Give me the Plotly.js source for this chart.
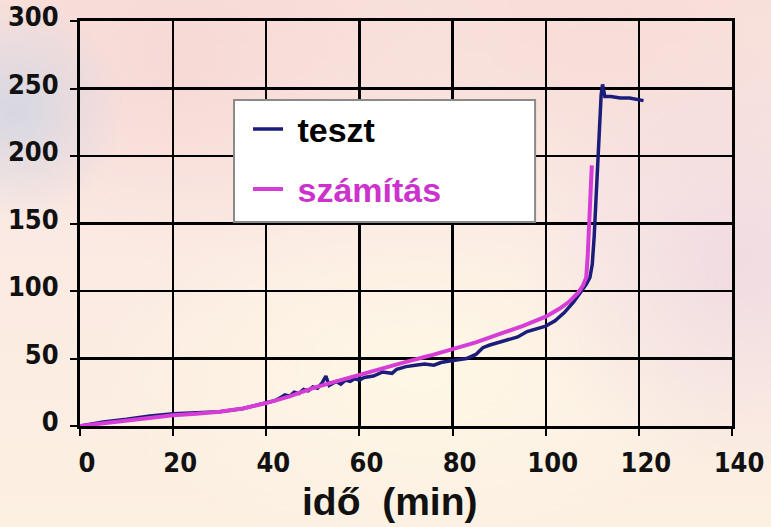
<!DOCTYPE html>
<html>
<head>
<meta charset="utf-8">
<script src="https://cdn.plot.ly/plotly-3.0.1.min.js"></script>
<style>
html,body{margin:0;padding:0;}
body{
  width:771px;height:527px;overflow:hidden;
  background:
    radial-gradient(ellipse 110px 110px at 15px 110px, rgba(210,214,228,0.9), rgba(210,214,228,0) 100%),
    radial-gradient(ellipse 260px 200px at 180px 60px, rgba(246,212,210,0.7), rgba(246,212,210,0) 100%),
    radial-gradient(ellipse 220px 220px at 740px 260px, rgba(238,216,226,0.8), rgba(238,216,226,0) 100%),
    radial-gradient(ellipse 300px 160px at 600px 40px, rgba(247,218,214,0.7), rgba(247,218,214,0) 100%),
    radial-gradient(ellipse 320px 180px at 420px 370px, rgba(255,248,230,0.95), rgba(255,248,230,0) 100%),
    linear-gradient(180deg, #f8e2dc 0%, #fbeae3 45%, #fcf0e1 100%);
}
#chart{width:771px;height:527px;}
</style>
</head>
<body>
<div id="chart"></div>
<script>
// teszt (measured)
const tesztX = [0, 5, 10, 15, 20, 25, 30, 35, 40, 42, 43, 44, 45, 46, 47, 48, 49, 50, 51, 52, 52.8, 53.5, 55, 56, 57, 58, 59, 60, 61, 63, 65, 67, 68, 70, 72, 74, 76, 77.5, 79, 81, 83, 85, 86.5, 88, 90, 92, 94, 96, 98, 100, 102, 104, 106, 107.5, 108.7, 109.5, 110, 110.4, 110.9, 111.4, 111.9, 112.2, 112.7, 114, 116, 118, 120, 121];
const tesztY = [0, 3, 5, 7.5, 9, 9.5, 10.5, 13, 17, 19, 21, 23, 22, 25, 24, 27, 26, 29, 28, 32, 37, 30, 33, 31, 34, 33, 35, 34, 36, 37, 40, 39, 42, 44, 45, 46, 45, 47, 48, 49, 50, 53, 58, 60, 62, 64, 66, 70, 72, 74, 78, 84, 92, 99, 105, 110, 120, 140, 175, 215, 245, 253, 244, 244, 243, 243, 242, 241];
// számítás (calculated)
const szamX = [0, 5, 10, 15, 20, 25, 30, 35, 40, 45, 50, 55, 60, 65, 70, 75, 80, 85, 90, 95, 100, 103, 105, 107, 108, 108.7, 109, 109.3, 109.6, 109.9];
const szamY = [0, 2, 4, 6, 8, 9, 10.5, 13, 17, 22, 28, 33, 38, 43, 47.5, 52, 57, 62, 68, 74, 81, 87, 92, 99, 104, 110, 125, 150, 175, 193];
const xTicks = [0, 20, 40, 60, 80, 100, 120, 140];
const yTicks = [0, 50, 100, 150, 200, 250, 300];

const FONT = "Liberation Sans, Arial, sans-serif";
const TICKFONT = "DejaVu Sans Condensed, DejaVu Sans, sans-serif";
const NAVY = "#1c1c7a";
const MAG = "#d63cd6";

const traces = [
  {x: tesztX, y: tesztY, mode: 'lines', name: '\u00a0teszt', line: {color: NAVY, width: 3.5}, legend: 'legend'},
  {x: szamX, y: szamY, mode: 'lines', name: '\u00a0számítás', line: {color: MAG, width: 4}, legend: 'legend2'}
];

const axisCommon = {
  showgrid: true, gridcolor: '#000', gridwidth: 2.4,
  showline: true, linecolor: '#000', linewidth: 3, mirror: true,
  ticks: 'outside', ticklen: 7, tickwidth: 2, tickcolor: '#000',
  zeroline: false,
  tickfont: {family: TICKFONT, size: 27, color: '#111', weight: 'bold'}
};

const layout = {
  width: 771, height: 527,
  margin: {l: 80, r: 39, t: 21, b: 101},
  paper_bgcolor: 'rgba(0,0,0,0)',
  plot_bgcolor: 'rgba(0,0,0,0)',
  xaxis: Object.assign({}, axisCommon, {range: [0, 140], tickvals: xTicks, ticklabelstandoff: 4, ticklabelshift: 7}),
  yaxis: Object.assign({}, axisCommon, {range: [0, 300], tickvals: yTicks, ticklabelstandoff: 6, ticklabelshift: -4}),
  showlegend: true,
  legend: {x: 0.2577, y: 0.8037, xanchor: 'left', yanchor: 'top', bgcolor: 'rgba(0,0,0,0)', borderwidth: 0,
           font: {family: FONT, size: 34, color: '#000', weight: 'bold'}},
  legend2: {x: 0.2577, y: 0.656, xanchor: 'left', yanchor: 'top', bgcolor: 'rgba(0,0,0,0)', borderwidth: 0,
           font: {family: FONT, size: 34, color: '#cc33cc', weight: 'bold'}},
  shapes: [
    {type: 'rect', xref: 'paper', yref: 'paper', x0: 0.2362, x1: 0.698, y0: 0.5037, y1: 0.805,
     fillcolor: '#ffffff', line: {color: '#8a8a8a', width: 2}, layer: 'above'}
  ],
  annotations: [
    {text: 'idő  (min)', xref: 'paper', yref: 'paper', x: 0.474, y: -0.1852, xanchor: 'center', yanchor: 'middle',
     showarrow: false, font: {family: FONT, size: 39, color: '#111', weight: 'bold'}}
  ]
};

Plotly.newPlot('chart', traces, layout, {displayModeBar: false, staticPlot: true});
</script>
</body>
</html>
